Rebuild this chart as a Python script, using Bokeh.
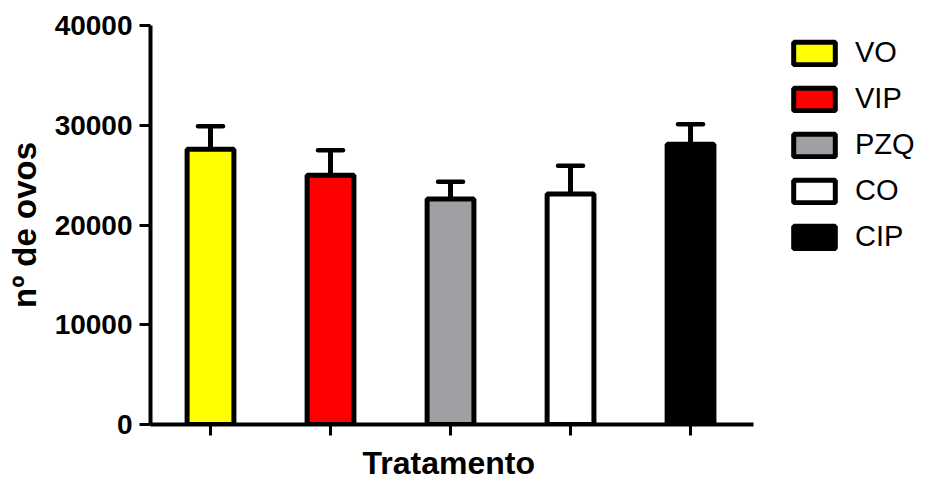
from bokeh.plotting import figure
from bokeh.models import Range1d, FixedTicker, ColumnDataSource, Title
from bokeh.embed import file_html
from bokeh.resources import INLINE

categories = ["VO", "VIP", "PZQ", "CO", "CIP"]
means = [27600, 25000, 22600, 23100, 28100]
errors = [2300, 2500, 1730, 2830, 2000]
colors = ["#FFFF00", "#FF0000", "#A0A0A4", "#FFFFFF", "#000000"]
y_ticks = [0, 10000, 20000, 30000, 40000]
x_title = "Tratamento"
y_title = "nº de ovos"

FONT = "Liberation Sans"
xs = list(range(len(categories)))
cap_half = 0.104
src = ColumnDataSource(dict(
    x=xs, top=means, cat=categories, color=colors,
    err_top=[m + e for m, e in zip(means, errors)],
    cap_l=[i - cap_half for i in xs], cap_r=[i + cap_half for i in xs],
))

# frame spans to the right edge so the legend is inside it; the x axis
# line itself is bounded to the category area
x_axis_bounds = (-0.5, 4.525)
p = figure(width=925, height=488, output_backend="svg", toolbar_location=None,
           x_range=Range1d(-0.5, 5.958), y_range=Range1d(0, 40000),
           min_border_left=150, min_border_right=0, min_border_top=25,
           min_border_bottom=63)
p.background_fill_color = "white"
p.border_fill_color = "white"
p.outline_line_color = None
p.xgrid.visible = False
p.ygrid.visible = False

p.vbar(x="x", top="top", width=0.39, bottom=0, source=src, fill_color="color",
       line_color="black", line_width=5, legend_field="cat")
p.segment(x0="x", y0="top", x1="x", y1="err_top", source=src,
          line_color="black", line_width=5)
p.segment(x0="cap_l", y0="err_top", x1="cap_r", y1="err_top", source=src,
          line_color="black", line_width=4.5, line_cap="round")

ya = p.yaxis[0]
ya.ticker = FixedTicker(ticks=y_ticks)
ya.minor_tick_line_color = None
ya.major_tick_in = 0
ya.major_tick_out = 11
ya.major_tick_line_width = 3
ya.axis_line_width = 4
ya.major_label_text_font = FONT
ya.major_label_text_font_size = "28px"
ya.major_label_text_font_style = "bold"
ya.major_label_text_color = "black"
ya.major_label_standoff = 7
ya.axis_label = y_title
ya.axis_label_text_font = FONT
ya.axis_label_text_font_size = "33px"
ya.axis_label_text_font_style = "bold"
ya.axis_label_text_color = "black"
ya.axis_label_standoff = 9

xa = p.xaxis[0]
xa.bounds = x_axis_bounds
xa.ticker = FixedTicker(ticks=xs)
xa.major_label_overrides = {i: "" for i in xs}
xa.major_label_text_font_size = "1px"
xa.major_label_standoff = 0
xa.minor_tick_line_color = None
xa.major_tick_in = 0
xa.major_tick_out = 11
xa.major_tick_line_width = 3
xa.axis_line_width = 4

p.add_layout(Title(text=x_title, align="left", offset=212, standoff=15,
                   text_font=FONT, text_font_size="32px",
                   text_font_style="bold", text_color="black"), "below")

lg = p.legend[0]
lg.location = (638, 171)
lg.glyph_width = 52
lg.glyph_height = 28
lg.label_height = 33
lg.spacing = 13
lg.padding = 0
lg.margin = 0
lg.label_standoff = 15
lg.label_text_font = FONT
lg.label_text_font_size = "29px"
lg.label_text_color = "black"
lg.border_line_color = None
lg.background_fill_alpha = 0

open("out.html", "w").write(file_html(p, INLINE))
